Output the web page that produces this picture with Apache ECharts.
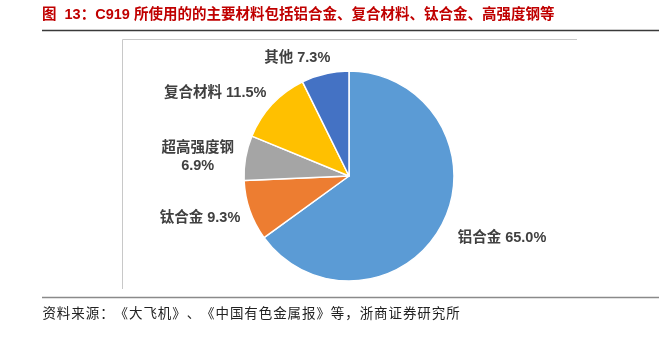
<!DOCTYPE html>
<html><head><meta charset="utf-8">
<script src="https://cdn.jsdelivr.net/npm/echarts@6/dist/echarts.min.js"></script>
<style>html,body{margin:0;padding:0;background:#fff}#c{width:659px;height:337px}</style>
</head><body><div id="c"></div>
<script>
const categories = ['铝合金', '钛合金', '超高强度钢', '复合材料', '其他'];
const values = [65.0, 9.3, 6.9, 11.5, 7.3];
const colors = ['#5B9BD5', '#ED7D31', '#A5A5A5', '#FFC000', '#4472C4'];
const titleText = '图  13：C919 所使用的的主要材料包括铝合金、复合材料、钛合金、高强度钢等';
const sourceText = '资料来源：《大飞机》、《中国有色金属报》等，浙商证券研究所';

const labelShift = [[3, 11], [3, 5], [-35, 0], [5, -6], [12, -8]];

const chart = echarts.init(document.getElementById('c'), null, {renderer: 'canvas'});
const latin = 'Liberation Sans, "Noto Sans CJK SC", sans-serif';
const sourceChars = Array.from(sourceText).map((ch, i) => ({
  type: 'text', x: 42 + 7.2 + i * 14.42, y: 313,
  style: {text: ch, fill: '#222', font: '13.5px "Noto Sans CJK SC", sans-serif', align: 'center', verticalAlign: 'middle'}
}));
chart.setOption({
  backgroundColor: '#fff',
  animation: false,
  graphic: [
    {type: 'text', left: 42, top: 8, style: {text: titleText, fill: '#C00000', font: 'bold 14.5px ' + latin}},
    {type: 'line', shape: {x1: 42, y1: 30.5, x2: 659, y2: 30.5}, style: {stroke: '#3a3a3a', lineWidth: 1.5}},
    {type: 'line', shape: {x1: 122.5, y1: 39.5, x2: 577, y2: 39.5}, style: {stroke: '#c8c8c8', lineWidth: 1}},
    {type: 'line', shape: {x1: 122.5, y1: 39.5, x2: 122.5, y2: 289}, style: {stroke: '#c8c8c8', lineWidth: 1}},
    {type: 'line', shape: {x1: 42, y1: 297.5, x2: 659, y2: 297.5}, style: {stroke: '#8a8a8a', lineWidth: 1.5}},
    {type: 'group', children: sourceChars}
  ],
  series: [{
    type: 'pie',
    center: [349, 176],
    radius: 105,
    startAngle: 90,
    clockwise: true,
    avoidLabelOverlap: false,
    itemStyle: {borderColor: '#fff', borderWidth: 1.5},
    label: {
      show: true,
      position: 'outside',
      color: '#404040',
      fontSize: 14.5,
      fontWeight: 'bold',
      fontFamily: latin,
      lineHeight: 18,
      formatter: p => p.name.length > 4 ? p.name + '\n' + p.value.toFixed(1) + '%' : p.name + ' ' + p.value.toFixed(1) + '%'
    },
    labelLine: {show: false, length: 8, length2: 0},
    labelLayout: p => {
      const o = {dx: labelShift[p.dataIndex][0], dy: labelShift[p.dataIndex][1]};
      if (p.dataIndex === 2) o.align = 'center';
      return o;
    },
    data: categories.map((c, i) => ({name: c, value: values[i], itemStyle: {color: colors[i]}}))
  }]
});
</script></body></html>
